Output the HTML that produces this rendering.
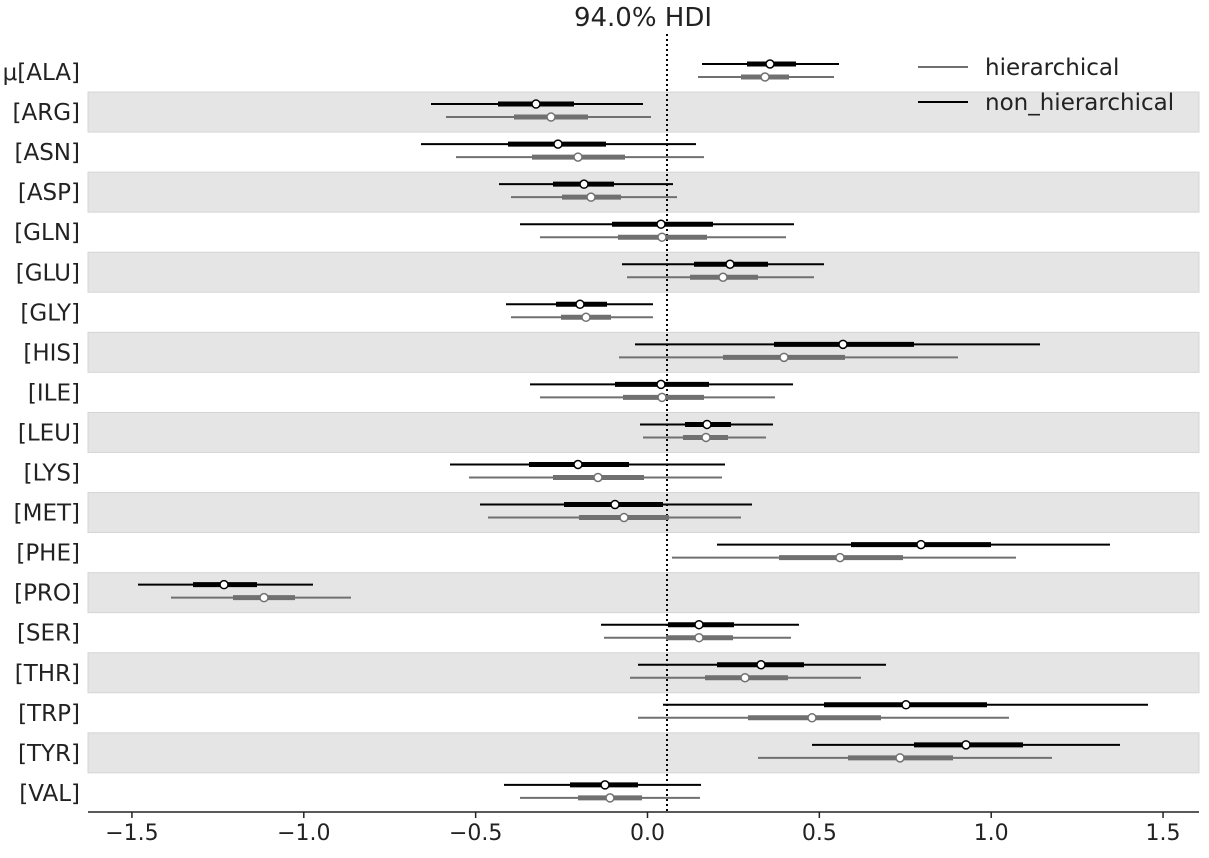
<!DOCTYPE html>
<html><head><meta charset="utf-8"><style>
html,body{margin:0;padding:0;background:#fff}
svg{display:block;font-family:"DejaVu Sans","Liberation Sans",sans-serif}
</style></head><body>
<svg id="s" width="1209" height="858" xmlns="http://www.w3.org/2000/svg">
<text x="643" y="26" font-size="26" text-anchor="middle" fill="#222">94.0% HDI</text>
<g id="bands"></g>
<line x1="667" y1="34" x2="667" y2="812" stroke="#000" stroke-width="2" stroke-dasharray="2,3"/>
<g id="rows"></g>
<line x1="88" y1="812" x2="1199" y2="812" stroke="#222" stroke-width="1.5"/>
<g id="ticks" font-size="22" fill="#222" text-anchor="middle"></g>
<line x1="918" y1="67" x2="968" y2="67" stroke="#707070" stroke-width="2"/>
<text x="985" y="75" font-size="23" fill="#222">hierarchical</text>
<line x1="918" y1="102" x2="968" y2="102" stroke="#000" stroke-width="2"/>
<text x="985" y="110" font-size="23" fill="#222">non_hierarchical</text>
</svg>
<script>
const names=["μ[ALA]","[ARG]","[ASN]","[ASP]","[GLN]","[GLU]","[GLY]","[HIS]","[ILE]","[LEU]","[LYS]","[MET]","[PHE]","[PRO]","[SER]","[THR]","[TRP]","[TYR]","[VAL]"];
const d=[
[[702,839,747,796,770],[698,834,741,789,765]],
[[431,643,498,574,536],[446,651,514,588,551]],
[[421,696,508,606,558],[456,704,532,625,578]],
[[499,673,553,614,584],[511,677,562,621,591]],
[[520,794,612,713,661],[540,786,618,707,662]],
[[622,824,694,768,730],[627,814,690,758,723]],
[[506,653,556,607,580],[511,653,561,611,586]],
[[635,1040,774,914,843],[619,958,723,845,784]],
[[530,793,615,709,661],[540,775,623,704,662]],
[[640,773,685,731,707],[643,766,683,728,706]],
[[450,725,529,629,578],[469,722,553,644,598]],
[[480,752,564,663,615],[488,741,579,669,624]],
[[717,1110,851,991,921],[672,1016,779,903,840]],
[[138,313,193,257,224],[171,351,233,295,264]],
[[601,799,668,734,699],[604,791,666,733,699]],
[[638,886,717,804,761],[630,861,705,788,745]],
[[663,1148,824,987,906],[638,1009,748,881,812]],
[[812,1120,914,1023,966],[758,1052,848,953,900]],
[[504,701,570,638,605],[520,700,578,642,610]]];
let b="",r="";
names.forEach((n,i)=>{
 const c=72+40.05*i;
 if(i%2==1) b+=`<rect x="88" y="${c-20}" width="1111" height="40" fill="#e5e5e5" stroke="#d5d5d5" stroke-width="1"/>`;
 r+=`<text x="80" y="${c+8}" font-size="23" text-anchor="end" fill="#222">${n}</text>`;
 [[d[i][0],c-8,"#000"],[d[i][1],c+5,"#707070"]].forEach(([v,y,col])=>{
  r+=`<line x1="${v[0]}" y1="${y}" x2="${v[1]}" y2="${y}" stroke="${col}" stroke-width="2"/>`;
  r+=`<line x1="${v[2]}" y1="${y}" x2="${v[3]}" y2="${y}" stroke="${col}" stroke-width="5"/>`;
  r+=`<circle cx="${v[4]}" cy="${y}" r="4" fill="#fff" stroke="${col}" stroke-width="1.5"/>`;
 });
});
document.getElementById("bands").innerHTML=b;
document.getElementById("rows").innerHTML=r;
let t="";
[-1.5,-1,-0.5,0,0.5,1,1.5].forEach(v=>{
 const x=647.5+343.7*v;
 t+=`<line x1="${x}" y1="812" x2="${x}" y2="818" stroke="#222" stroke-width="1.5"/>`;
 t+=`<text x="${x}" y="840">${v<0?"−":""}${Math.abs(v).toFixed(1)}</text>`;
});
document.getElementById("ticks").innerHTML=t;
</script>
</body></html>
